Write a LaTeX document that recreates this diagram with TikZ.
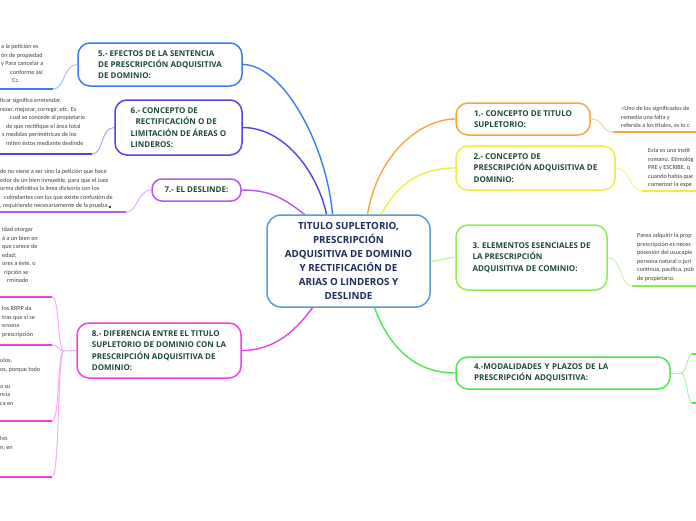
\documentclass[tikz,border=0pt]{standalone}
\usepackage{fontspec}
\setmainfont{Carlito}
\newfontfamily\titlefam{Open Sans}
\definecolor{rootline}{HTML}{5B9BD5}
\definecolor{roottext}{HTML}{1C2C5B}
\definecolor{topictext}{HTML}{1E4A3C}
\definecolor{leaftext}{HTML}{404040}
\definecolor{orng}{HTML}{F9A53B}
\definecolor{orngl}{HTML}{FFD2A0}
\definecolor{yell}{HTML}{EEEE40}
\definecolor{yelll}{HTML}{F5F59A}
\definecolor{lgrn}{HTML}{8FEF4A}
\definecolor{lgrnl}{HTML}{C8F5A6}
\definecolor{grn}{HTML}{4CE84C}
\definecolor{grnl}{HTML}{A8F3A8}
\definecolor{blu}{HTML}{3A7BF2}
\definecolor{blul}{HTML}{A6C4FA}
\definecolor{indg}{HTML}{5B3FE0}
\definecolor{indgl}{HTML}{B0A4F2}
\definecolor{prpl}{HTML}{B657F0}
\definecolor{prpll}{HTML}{DDB2F8}
\definecolor{mgnt}{HTML}{F23FE3}
\definecolor{mgntl}{HTML}{F9AAF3}
\newcommand{\leaffont}{\fontsize{6.2}{8.5}\selectfont}
\newcommand{\topicfont}{\titlefam\bfseries\fontsize{8}{11.3}\selectfont}
\newcommand{\rootfont}{\titlefam\bfseries\fontsize{9.8}{14}\selectfont}
\tikzset{
  topic/.style={draw=#1,line width=1.5pt,fill=white,rounded corners=12pt,align=left,font=\topicfont,text=topictext,inner sep=0pt},
  leaf/.style={anchor=north west,inner sep=0pt,align=left,font=\leaffont,text=leaftext},
  link/.style={#1,line width=1.4pt},
  twig/.style={#1,line width=1pt},
  under/.style={#1,line width=1.6pt}
}

\begin{document}
\begin{tikzpicture}[x=1pt,y=-1pt]
\useasboundingbox[fill=white] (0,0) rectangle (696,520);
\node[draw=rootline,line width=1.5pt,fill=white,rounded corners=14pt,minimum width=163pt,minimum height=92pt,align=center,font=\rootfont,text=roottext] (ctr) at (348.5,261) {TITULO SUPLETORIO,\\PRESCRIPCIÓN\\ADQUISITIVA DE DOMINIO\\Y RECTIFICACIÓN DE\\ARIAS O LINDEROS Y\\DESLINDE};
\node[topic=orng,minimum width=134pt,minimum height=32pt] (n1) at (523,119) {1.- CONCEPTO DE TITULO\\SUPLETORIO:};
\node[topic=yell,minimum width=159pt,minimum height=44pt] (n2) at (535.5,168) {2.- CONCEPTO DE\\PRESCRIPCIÓN ADQUISITIVA DE\\DOMINIO:};
\node[topic=lgrn,minimum width=151pt,minimum height=65pt] (n3) at (531.5,257.5) {3. ELEMENTOS ESENCIALES DE\\LA PRESCRIPCIÓN\\ADQUISITIVA DE COMINIO:};
\node[topic=grn,minimum width=214pt,minimum height=32pt,text width=178pt] (n4) at (563,373) {4.-MODALIDADES Y PLAZOS DE LA\\PRESCRIPCIÓN ADQUISITIVA:};
\node[topic=blu,minimum width=164pt,minimum height=43pt] (n5) at (160,64.5) {5.- EFECTOS DE LA SENTENCIA\\DE PRESCRIPCIÓN ADQUISITIVA\\DE DOMINIO:};
\node[topic=indg,minimum width=127pt,minimum height=55pt] (n6) at (178.5,127.5) {6.- CONCEPTO DE\\\hspace*{5pt}RECTIFICACIÓN O DE\\LIMITACIÓN DE ÁREAS O\\LINDEROS:};
\node[topic=prpl,rounded corners=10pt,minimum width=89pt,minimum height=22pt] (n7) at (196.5,190) {7.- EL DESLINDE:};
\node[topic=mgnt,minimum width=164pt,minimum height=55pt] (n8) at (159,350.5) {8.- DIFERENCIA ENTRE EL TITULO\\SUPLETORIO DE DOMINIO CON LA\\PRESCRIPCIÓN ADQUISITIVA DE\\DOMINIO:};

\draw[link=orng] ([xshift=19pt]ctr.north) .. controls +(10,-60) and +(-35,0) .. (n1.west);
\draw[link=yell] ([xshift=33pt]ctr.north) .. controls +(15,-30) and +(-35,0) .. (n2.west);
\draw[link=lgrnl] (ctr.east) .. controls +(12,0) and +(-12,0) .. (n3.west);
\draw[link=grn] ([xshift=26pt]ctr.south) .. controls +(15,40) and +(-40,0) .. (n4.west);
\draw[link=blu] ([xshift=-16pt]ctr.north) .. controls +(-6,-70) and +(40,0) .. (n5.east);
\draw[link=indg] ([xshift=-22pt]ctr.north) .. controls +(-10,-45) and +(40,0) .. (n6.east);
\draw[link=prpl] ([xshift=-44pt]ctr.north) .. controls +(-20,-15) and +(30,0) .. (n7.east);
\draw[link=mgnt] ([xshift=-36pt]ctr.south) .. controls +(-15,20) and +(35,0) .. (n8.east);

\coordinate (u1) at (613,132);
\coordinate (u2) at (642,191);
\coordinate (u3) at (632,286);
\coordinate (h4) at (681,373);
\coordinate (u4a) at (692,354);
\coordinate (u4b) at (692,403);
\coordinate (u5) at (53,89);
\coordinate (u6) at (92,154);
\coordinate (u7) at (126,212);
\coordinate (h8) at (64,351);
\coordinate (u8a) at (52,297);
\coordinate (u8b) at (52,345);
\coordinate (u8c) at (52,421);
\coordinate (u8d) at (52,477);

\draw[twig=orngl] (n1.east) .. controls +(14,0) and +(-12,0) .. (u1);
\draw[under=orng] (u1) -- ++(90,0);
\draw[twig=yelll] (n2.east) .. controls +(14,0) and +(-12,0) .. (u2);
\draw[under=yell] (u2) -- ++(60,0);
\draw[twig=lgrnl] (n3.east) .. controls +(14,0) and +(-12,0) .. (u3);
\draw[under=lgrn] (u3) -- ++(70,0);
\draw[twig=grnl] (n4.east) -- (h4);
\draw[twig=grnl] (h4) .. controls +(6,0) and +(-5,0) .. (u4a);
\draw[twig=grnl] (h4) .. controls +(6,0) and +(-5,0) .. (u4b);
\draw[under=grn] (u4a) -- ++(10,0);
\draw[under=grn] (u4b) -- ++(10,0);
\draw[twig=blul] (n5.west) .. controls +(-14,0) and +(12,0) .. (u5);
\draw[under=blu] (u5) -- ++(-60,0);
\draw[twig=indgl] (n6.west) .. controls +(-14,0) and +(12,0) .. (u6);
\draw[under=indg] (u6) -- ++(-100,0);
\draw[twig=prpll] (n7.west) .. controls +(-14,0) and +(12,0) .. (u7);
\draw[under=prpl] (u7) -- ++(-130,0);
\draw[twig=mgntl] (n8.west) -- (h8);
\draw[twig=mgntl] (h8) .. controls +(-7,0) and +(8,0) .. (u8a);
\draw[twig=mgntl] (h8) .. controls +(-7,0) and +(8,0) .. (u8b);
\draw[twig=mgntl] (h8) .. controls +(-7,0) and +(8,0) .. (u8c);
\draw[twig=mgntl] (h8) .. controls +(-7,0) and +(8,0) .. (u8d);
\draw[under=mgnt] (u8a) -- ++(-60,0);
\draw[under=mgnt] (u8b) -- ++(-60,0);
\draw[under=mgnt] (u8c) -- ++(-60,0);
\draw[under=mgnt] (u8d) -- ++(-60,0);

\node[leaf] (t1) at (621,104.5) {\strut«Uno de los significados de\\remedia una falta y\\referida a los títulos, es lo c};
\node[leaf] (t2) at (648,146.5) {\strut Esta es una instit\\romano. Etimológ\\PRE y ESCRIBE, q\\cuando había que\\comenzar la expe};
\node[leaf] (t3) at (637,231.5) {\strut Parea adquirir la prop\\prescripción es neces\\posesión del usucapie\\persona natural o juri\\continua, pacífica, púb\\de propietario.};
\node[leaf] (t5) at (1,42.5) {\strut a la petición es\\ón de propiedad\\y Para cancelar a\\\hspace*{9pt}conforme así\\\hspace*{11pt}Cc.};
\node[leaf] (t6) at (0,96.5) {\strut ficar significa enmendar,\\rezar, mejorar, corregir, etc. Es\\\hspace*{10pt}cual se concede al propietario\\\hspace*{6pt}de que rectifique el área total\\\hspace*{2pt}s medidas perimétricas de los\\\hspace*{6pt}miten éstos mediante deslinde};
\node[leaf] (t7) at (0,167.5) {\strut de no viene a ser sino la petición que hace\\edor de un bien inmueble, para que el Juez\\orma definitiva la línea divisoria con los\\\hspace*{4pt}colindantes con los que existe confusión de\\, requiriendo necesariamente de la prueba.\rule{1.8pt}{1.8pt}};
\node[leaf] (t8a) at (2,225.5) {\strut idad otorgar\\á a un bien en\\que carece de\\edad;\\ores a éste, o\\\hspace*{2pt}ripción se\\\hspace*{5pt}rminado};
\node[leaf] (t8b) at (2,304.5) {\strut los RRPP da\\tras que si se\\ersona\\prescripción};
\node[leaf] (t8c) at (0,356.5) {\strut ulos,\\os, porque todo\\\mbox{}\\a su\\ncia\\ca en};
\node[leaf] (t8d) at (0,434.5) {\strut lvo\\n, en};
\end{tikzpicture}
\end{document}
